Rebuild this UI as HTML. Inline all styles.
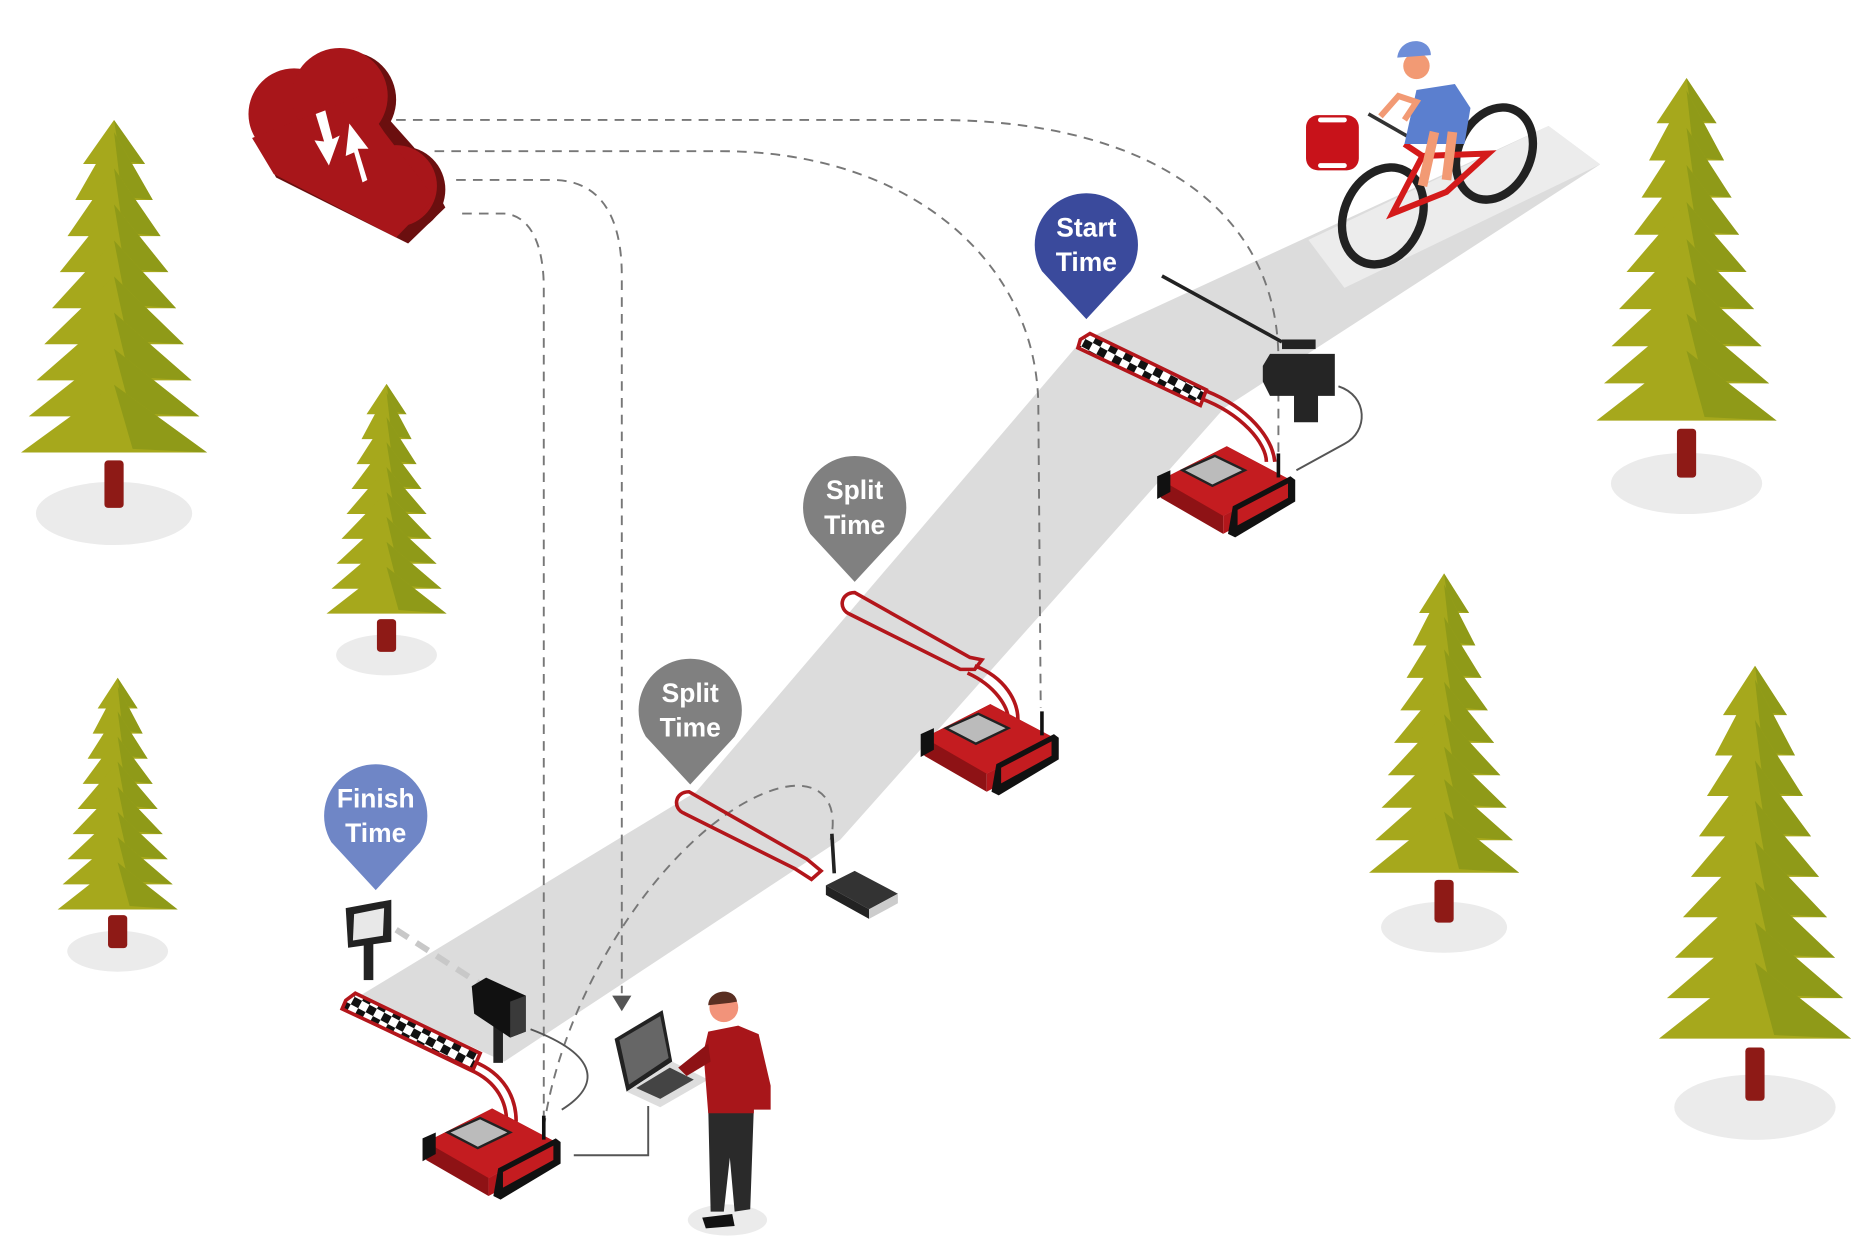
<!DOCTYPE html>
<html><head><meta charset="utf-8"><style>
html,body{margin:0;padding:0;background:#fff;}
svg{display:block}
text{font-family:"Liberation Sans","DejaVu Sans",sans-serif;font-weight:bold;fill:#fff;text-anchor:middle}
</style></head><body>
<svg id="s" width="1875" height="1250" viewBox="0 0 1562 1042" preserveAspectRatio="none" xmlns="http://www.w3.org/2000/svg">
<defs>
<pattern id="chk" width="14" height="14" patternUnits="userSpaceOnUse" patternTransform="rotate(28)">
<rect width="14" height="14" fill="#fff"/><rect width="7" height="7" fill="#111"/><rect x="7" y="7" width="7" height="7" fill="#111"/>
</pattern>
</defs>
<!-- road -->
<polygon points="300,830 580,660 900,285 1290,105 1333,137 1020,340 700,700 420,885" fill="#dcdcdc"/>
<polygon points="1090,200 1290,105 1333,137 1120,240" fill="#ececec"/>
<g id="trees"></g>
<!-- dashed connectors -->
<g fill="none" stroke="#777" stroke-width="1.6" stroke-dasharray="8,6">
<path d="M330,100 L780,100 C950,100 1065,170 1065,300 L1065,385"/>
<path d="M362,126 L600,126 C760,126 865,220 865,340 L867,590"/>
<path d="M380,150 L460,150 C500,150 518,180 518,230 L518,828"/>
<path d="M385,178 L420,178 C445,180 453,210 453,240 L453,930"/>
<path d="M453,940 C470,820 560,690 640,660 C680,645 700,665 692,700"/>
<path d="M330,775 L415,830" stroke="#c8c8c8" stroke-width="5" stroke-dasharray="12,8"/>
</g>
<polygon points="510,830 526,830 518,843" fill="#555"/>
<!-- solid cables -->
<g fill="none" stroke="#555" stroke-width="1.6">
<path d="M1115,322 C1140,330 1140,360 1120,370 L1080,392"/>
<path d="M442,858 C500,880 500,905 468,925"/>
<path d="M478,963 L540,963 L540,922"/>
</g>
<line x1="968" y1="230" x2="1068" y2="285" stroke="#222" stroke-width="3"/>
<!-- cloud -->
<g transform="translate(5,3)" fill="#6b0f0f"><circle cx="245" cy="95" r="38"/><circle cx="285" cy="80" r="40"/><circle cx="330" cy="155" r="36"/><polygon points="212,120 300,75 340,120 366,170 335,200 225,145"/></g>
<g fill="#a8161a"><circle cx="245" cy="95" r="38"/><circle cx="283" cy="80" r="40"/><circle cx="330" cy="155" r="34"/><polygon points="210,115 300,80 320,110 362,165 330,198 228,145"/></g>
<g fill="#fff"><polygon points="306,150 298,124 307,124 291,103 288,130 295,127 302,152"/><polygon points="263,95 270,118 262,117 274,138 283,113 277,116 271,92"/></g>
<!-- mats -->
<g fill="none" stroke="#b3161b" stroke-width="3">
<path d="M1000,332 C1035,345 1055,370 1055,385"/>
<path d="M1005,326 C1040,340 1060,365 1062,385"/>
<path d="M812,555 C838,565 848,585 848,600"/><path d="M806,561 C830,572 840,590 840,600"/>
<path d="M290,835 L395,885 C420,895 430,915 430,935"/><path d="M288,842 L392,892 C415,902 422,920 422,935"/>
</g>
<polygon points="900,283 908,278 1005,325 1000,338 898,290" fill="url(#chk)" stroke="#b3161b" stroke-width="3"/>
<polygon points="288,834 296,828 400,878 394,892 285,841" fill="url(#chk)" stroke="#b3161b" stroke-width="3"/>
<path d="M712,494 C700,494 698,508 708,512 L800,558 L812,558 L818,550 L808,548 Z" fill="none" stroke="#b3161b" stroke-width="3"/>
<path d="M574,660 C562,660 560,674 570,678 L662,724 L676,733 L684,726 L672,716 Z" fill="none" stroke="#b3161b" stroke-width="3"/>
<g id="timers"></g>
<!-- router -->
<line x1="693" y1="695" x2="695" y2="728" stroke="#222" stroke-width="3"/>
<polygon points="688,738 712,726 748,745 724,758" fill="#333"/><polygon points="688,738 724,758 724,766 688,746" fill="#222"/><polygon points="724,758 748,745 748,753 724,766" fill="#ccc"/>
<!-- camera -->
<rect x="1068" y="283" width="28" height="8" fill="#222"/>
<polygon points="1058,295 1112,295 1112,330 1098,330 1098,352 1078,352 1078,330 1058,330 1052,318 1052,305" fill="#252525"/>
<!-- photocell -->
<rect x="303" y="785" width="8" height="32" fill="#222"/>
<polygon points="288,757 326,750 326,785 290,790" fill="#222"/><polygon points="295,762 320,757 319,780 294,784" fill="#e8e8e8"/>
<!-- display -->
<rect x="411" y="850" width="8" height="36" fill="#222"/>
<polygon points="393,822 405,815 438,830 438,860 425,865 395,845" fill="#111"/><polygon points="425,835 438,830 438,860 425,865" fill="#3a3a3a"/>
<!-- laptop -->
<polygon points="512,866 552,842 560,885 522,910" fill="#222"/><polygon points="516,867 550,847 557,882 524,904" fill="#666"/>
<polygon points="522,910 560,885 590,900 550,923" fill="#ddd"/><polygon points="530,907 558,890 578,900 550,916" fill="#444"/>
<!-- person -->
<ellipse cx="606" cy="1017" rx="33" ry="13" fill="#ebebeb"/>
<polygon points="590,923 628,923 625,1008 612,1010 608,965 603,1010 592,1010" fill="#2a2a2a"/>
<polygon points="586,877 590,860 615,855 632,862 642,905 642,925 628,925 628,928 590,928" fill="#a8161a"/>
<polygon points="590,870 565,890 572,897 592,885" fill="#8e1215"/>
<circle cx="603" cy="840" r="12" fill="#f2937a"/><path d="M590,838 C590,825 612,822 614,835 L608,836 Z" fill="#5a2f22"/>
<polygon points="585,1015 610,1012 612,1022 588,1024" fill="#111"/>
<!-- bike -->
<ellipse cx="1152" cy="180" rx="32" ry="42" transform="rotate(25 1152 180)" fill="none" stroke="#222" stroke-width="7"/>
<ellipse cx="1245" cy="128" rx="30" ry="40" transform="rotate(25 1245 128)" fill="none" stroke="#222" stroke-width="7"/>
<g stroke="#d41a1a" stroke-width="5" fill="none"><path d="M1160,178 L1185,130 L1240,128 L1205,160 Z"/><path d="M1185,130 L1170,120"/></g>
<line x1="1140" y1="95" x2="1175" y2="115" stroke="#333" stroke-width="3"/>
<path d="M1170,120 L1180,75 L1212,70 L1225,90 L1220,120 Z" fill="#5b7fcf"/>
<path d="M1150,97 L1165,80 L1180,85 L1170,100" fill="none" stroke="#f29a74" stroke-width="5"/>
<path d="M1210,110 L1205,150 M1195,110 L1185,155" stroke="#f29a74" stroke-width="8"/>
<circle cx="1180" cy="55" r="11" fill="#f29a74"/><path d="M1164,48 C1166,30 1192,30 1192,46 Z" fill="#6e8ed8"/>
<rect x="1088" y="96" width="44" height="46" rx="10" fill="#c8121a"/><rect x="1098" y="98" width="24" height="4" rx="2" fill="#fff"/><rect x="1098" y="136" width="24" height="4" rx="2" fill="#fff"/>
<!-- pins -->
<g id="pins"></g>
</svg>
<script>
var NS="http://www.w3.org/2000/svg";
function el(p,t,a){var e=document.createElementNS(NS,t);for(var k in a)e.setAttribute(k,a[k]);p.appendChild(e);return e;}
var T=document.getElementById("trees");
function tree(cx,top,bot,w){
 var h=bot-top;
 el(T,"ellipse",{cx:cx,cy:bot-2,rx:w*0.42,ry:w*0.17,fill:"#ebebeb"});
 el(T,"rect",{x:cx-8,y:bot-h*0.14,width:16,height:h*0.12,fill:"#8e1a16",rx:3});
 var n=9;
 for(var i=0;i<n;i++){
  var f=(i+1)/n, y1=top+h*0.82*(i/n)-(i==0?0:h*0.06), y2=top+h*0.82*f+h*0.02, hw=w*0.5*(0.25+0.75*f);
  el(T,"polygon",{points:(cx)+","+y1+" "+(cx+hw)+","+y2+" "+(cx-hw)+","+y2,fill:"#a6a81c"});
  el(T,"polygon",{points:(cx)+","+y1+" "+(cx+hw)+","+y2+" "+(cx+hw*0.2)+","+(y2-3),fill:"#8f9a18"});
 }
}
tree(95,100,430,155);tree(322,320,548,100);tree(98,565,795,100);
tree(1405,65,405,150);tree(1203,478,775,125);tree(1462,555,925,160);
var G=document.getElementById("timers");
function timer(x,y){
 var g=el(G,"g",{transform:"translate("+x+","+y+")"});
 el(g,"polygon",{points:"0,30 55,2 108,30 52,60 52,75 0,45",fill:"#8e1215"});
 el(g,"polygon",{points:"52,60 108,30 108,45 52,75",fill:"#b3161b"});
 el(g,"polygon",{points:"0,30 55,2 108,30 52,60",fill:"#c41c20"});
 el(g,"polygon",{points:"18,22 45,10 70,22 43,35",fill:"#bbb",stroke:"#222","stroke-width":2});
 el(g,"polygon",{points:"-3,27 8,22 8,40 -3,46",fill:"#111"});
 el(g,"polygon",{points:"60,52 108,27 112,30 112,48 62,78 56,75",fill:"#111"});
 el(g,"polygon",{points:"64,55 106,33 106,45 64,68",fill:"#c41c20"});
 el(g,"line",{x1:98,y1:8,x2:98,y2:28,stroke:"#111","stroke-width":3});
}
timer(967,370);timer(770,585);timer(355,922);
var P=document.getElementById("pins");
function pin(cx,cy,c,a,b){
 el(P,"path",{d:"M"+(cx-37)+","+(cy+22)+" A43,43 0 1 1 "+(cx+37)+","+(cy+22)+" L"+cx+","+(cy+62)+" Z",fill:c});
 var t1=el(P,"text",{x:cx,y:cy-7,"font-size":22});t1.textContent=a;
 var t2=el(P,"text",{x:cx,y:cy+22,"font-size":22});t2.textContent=b;
}
pin(905,204,"#3a4a9c","Start","Time");pin(712,423,"#808080","Split","Time");
pin(575,592,"#808080","Split","Time");pin(313,680,"#6f86c6","Finish","Time");
</script>
</body></html>
